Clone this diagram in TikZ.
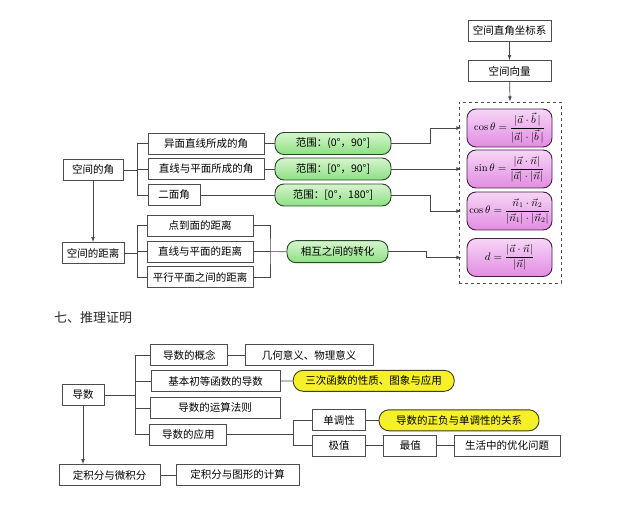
\documentclass[tikz,border=0pt]{standalone}
\usepackage{amsmath}
\usepackage{fontspec}
\newfontfamily\cjk{Noto Sans CJK SC}
\usetikzlibrary{
  arrows.meta,
  positioning
}
\definecolor{edgecolor}{RGB}{77, 77, 77}
\definecolor{linecolor}{RGB}{70, 70, 70}
\definecolor{greentop}{RGB}{214, 245, 206}
\definecolor{greenbottom}{RGB}{140, 224, 130}
\definecolor{greenedge}{RGB}{40, 70, 40}
\definecolor{pinktop}{RGB}{246, 214, 246}
\definecolor{pinkbottom}{RGB}{226, 140, 226}
\definecolor{pinkedge}{RGB}{70, 30, 70}
\definecolor{yellowfill}{RGB}{246, 240, 40}
\definecolor{yellowedge}{RGB}{60, 60, 30}
\definecolor{titlecolor}{RGB}{40, 40, 40}
\tikzset{
cntext/.style={
  font=\cjk\fontsize{10.5}{12}\selectfont,
  text=black,
  align=center
},
plainbox/.style={
  draw=edgecolor,
  fill=white,
  line width=0.7pt,
  minimum height=21pt,
  inner sep=2pt,
  cntext
},
rangebox/.style={
  draw=greenedge,
  line width=0.9pt,
  rounded corners=9pt,
  top color=greentop,
  bottom color=greenbottom,
  minimum height=22pt,
  minimum width=116pt,
  cntext
},
formulabox/.style={
  draw=pinkedge,
  line width=0.9pt,
  rounded corners=9pt,
  top color=pinktop,
  bottom color=pinkbottom,
  minimum height=38pt,
  minimum width=85pt,
  inner sep=1pt,
  font=\fontsize{10.5}{12}\selectfont
},
notebox/.style={
  draw=yellowedge,
  line width=0.9pt,
  rounded corners=10pt,
  fill=yellowfill,
  minimum height=21pt,
  cntext
},
framebox/.style={
  draw=edgecolor,
  dashed,
  line width=0.8pt,
  minimum width=102pt,
  minimum height=181pt
},
link/.style={
  draw=linecolor,
  line width=0.7pt
},
arrow/.style={
  link,
  -{Latex[length=1.8mm,width=1.3mm]}
}
}

\begin{document}
\begin{tikzpicture}[x=1pt,y=-1pt]
\useasboundingbox (0,0) rectangle (640,505);

% space geometry
\node[plainbox, minimum width=83pt] (zuobiao) at (509.5,31) {空间直角坐标系};
\node[plainbox, minimum width=83pt] (xiangliang) at (509.5,71) {空间向量};
\node[framebox] (frame) at (510,192.5) {};

\node[formulabox] (f1) at (509.5,128) {$\cos\theta=\dfrac{|\vec{a}\cdot\vec{b}\,|}{|\vec{a}|\cdot|\vec{b}\,|}$};
\node[formulabox] (f2) at (509.5,169) {$\sin\theta=\dfrac{|\vec{a}\cdot\vec{n}|}{|\vec{a}|\cdot|\vec{n}|}$};
\node[formulabox] (f3) at (509.5,211) {$\cos\theta=\dfrac{\vec{n}_1\cdot\vec{n}_2}{|\vec{n}_1|\cdot|\vec{n}_2|}$};
\node[formulabox] (f4) at (509.5,257.5) {$d=\dfrac{|\vec{a}\cdot\vec{n}|}{|\vec{n}|}$};

\node[plainbox, minimum width=60pt] (jiao) at (93,170) {空间的角};
\node[plainbox, minimum width=62pt] (juli) at (93,253) {空间的距离};

\node[plainbox, minimum width=116pt] (yimian) at (206,143.5) {异面直线所成的角};
\node[plainbox, minimum width=116pt] (xianmian) at (206,169) {直线与平面所成的角};
\node[plainbox, minimum width=52pt] (ermian) at (174,195) {二面角};

\node[plainbox, minimum width=106pt] (diandao) at (200,225.5) {点到面的距离};
\node[plainbox, minimum width=106pt] (xianju) at (200,251.5) {直线与平面的距离};
\node[plainbox, minimum width=106pt] (pingxing) at (200,277) {平行平面之间的距离};

\node[rangebox] (r1) at (333,143.5) {范围：(0°，90°]};
\node[rangebox] (r2) at (333,169) {范围：[0°，90°]};
\node[rangebox] (r3) at (333,195) {范围：[0°，180°]};
\node[rangebox, minimum width=101pt] (zhuanhua) at (337.5,251.7) {相互之间的转化};

\coordinate (b1) at (137,170);
\coordinate (b2) at (137,253);
\coordinate (b3) at (270,251.5);

\draw[arrow] (zuobiao) -- (xiangliang);
\draw[arrow] (xiangliang) -- (frame.north);
\draw[arrow] (jiao) -- (juli);

\draw[link] (jiao.east) -- (b1);
\draw[link] (b1) |- (yimian.west);
\draw[link] (b1) |- (xianmian.west);
\draw[link] (b1) |- (ermian.west);
\draw[link] (juli.east) -- (b2);
\draw[link] (b2) |- (diandao.west);
\draw[link] (b2) |- (xianju.west);
\draw[link] (b2) |- (pingxing.west);
\draw[link] (diandao.east) -| (b3) |- (pingxing.east);
\draw[link] (xianju.east) -- (zhuanhua.west);

\draw[link] (yimian) -- (r1);
\draw[link] (xianmian) -- (r2);
\draw[link] (ermian) -- (r3);

\draw[arrow, shorten >=5pt] (r1.east) -- ++(39,0) |- (f1.west);
\draw[arrow, shorten >=5pt] (r2.east) -- (r2.east -| f2.west);
\draw[arrow, shorten >=5pt] (r3.east) -- ++(39,0) |- (f3.west);
\draw[arrow, shorten >=5pt] (zhuanhua.east) -- ++(38,0) |- (f4.west);

% reasoning and proof
\node[font=\cjk\fontsize{13}{15}\selectfont, text=titlecolor] (title) at (93,318) {七、推理证明};

\node[plainbox, minimum width=42pt] (daoshu) at (83,395) {导数};
\node[plainbox, minimum width=77pt] (gainian) at (189.3,355) {导数的概念};
\node[plainbox, minimum width=129pt] (jiben) at (215.5,381.3) {基本初等函数的导数};
\node[plainbox, minimum width=130pt] (yunsuan) at (215,408) {导数的运算法则};
\node[plainbox, minimum width=77pt] (yingyong) at (188.3,434.7) {导数的应用};
\node[plainbox, minimum width=128pt] (yiyi) at (309,355) {几何意义、物理意义};
\node[notebox, minimum width=161pt] (sanci) at (373.7,380.8) {三次函数的性质、图象与应用};
\node[plainbox, minimum width=53pt] (dandiao) at (339,420.3) {单调性};
\node[notebox, minimum width=160pt] (zhengfu) at (459,420.3) {导数的正负与单调性的关系};
\node[plainbox, minimum width=53pt] (jizhi) at (339,445.5) {极值};
\node[plainbox, minimum width=53pt] (zuizhi) at (410.3,445.5) {最值};
\node[plainbox, minimum width=106pt] (youhua) at (507,445.5) {生活中的优化问题};
\node[plainbox, minimum width=101pt] (jifen) at (109.7,475) {定积分与微积分};
\node[plainbox, minimum width=123pt] (tuxing) at (237.7,475) {定积分与图形的计算};

\coordinate (b4) at (135,395);
\coordinate (b5) at (293.3,434.7);

\draw[link] (daoshu.east) -- (b4);
\draw[link] (b4) |- (gainian.west);
\draw[link] (b4) |- (jiben.west);
\draw[link] (b4) |- (yunsuan.west);
\draw[link] (b4) |- (yingyong.west);
\draw[link] (gainian) -- (yiyi);
\draw[link] (jiben) -- (sanci);
\draw[link] (yingyong.east) -- (b5);
\draw[link] (b5) |- (dandiao.west);
\draw[link] (b5) |- (jizhi.west);
\draw[link] (dandiao) -- (zhengfu);
\draw[link] (jizhi) -- (zuizhi);
\draw[link] (zuizhi) -- (youhua);
\draw[arrow] (daoshu.south) -- (daoshu.south |- jifen.north);
\draw[link] (jifen) -- (tuxing);
\end{tikzpicture}
\end{document}
